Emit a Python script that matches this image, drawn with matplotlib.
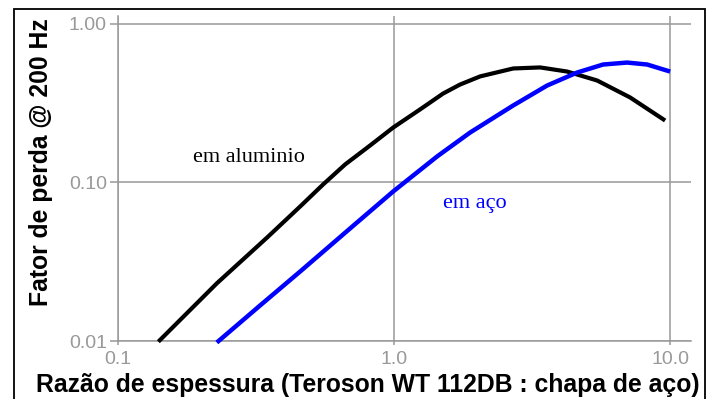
import matplotlib
matplotlib.use("Agg")
import matplotlib.pyplot as plt
from matplotlib.patches import Rectangle
from matplotlib.ticker import FixedLocator, FixedFormatter, NullLocator

# Loss factor at 200 Hz vs. thickness ratio
aluminio_x = [0.14, 0.228, 0.347, 0.457, 0.553, 0.665, 0.818, 0.992, 1.242, 1.505, 1.734,
              2.05, 2.70, 3.38, 4.24, 5.44, 7.16, 9.59]
aluminio_y = [0.0099, 0.0231, 0.045, 0.0706, 0.0971, 0.130, 0.171, 0.222, 0.289, 0.364, 0.415,
              0.467, 0.524, 0.532, 0.501, 0.440, 0.344, 0.246]

aco_x = [0.228, 0.327, 0.457, 0.693, 0.992, 1.432, 1.886, 2.70, 3.584, 4.603, 5.718, 6.985,
         8.254, 10.0]
aco_y = [0.00978, 0.01675, 0.02745, 0.0513, 0.0877, 0.146, 0.2067, 0.306, 0.409, 0.494, 0.555,
         0.571, 0.555, 0.501]

x_ticks = [0.1, 1.0, 10.0]
x_tick_labels = ["0.1", "1.0", "10.0"]
y_ticks = [0.01, 0.1, 1.0]
y_tick_labels = ["0.01", "0.10", "1.00"]

W, H = 716, 399
grid_col = "#999999"
sans = ["Liberation Sans", "DejaVu Sans"]
serif = ["Liberation Serif", "DejaVu Serif"]

fig = plt.figure(figsize=(W / 100, H / 100), dpi=100)
ax = fig.add_axes([118 / W, (H - 341) / H, (691 - 118) / W, (341 - 16) / H])

ax.set_xscale("log")
ax.set_yscale("log")
ax.set_xlim(0.1, 11.9)
ax.set_ylim(0.01, 1.123)

ax.plot(aluminio_x, aluminio_y, color="black", lw=3, clip_on=False, zorder=3,
        solid_joinstyle="round", solid_capstyle="butt")
ax.plot(aco_x, aco_y, color="#0000ff", lw=3.2, clip_on=False, zorder=3,
        solid_joinstyle="round", solid_capstyle="butt")

# tick setup
ax.xaxis.set_major_locator(FixedLocator(x_ticks))
ax.xaxis.set_major_formatter(FixedFormatter(x_tick_labels))
ax.yaxis.set_major_locator(FixedLocator(y_ticks))
ax.yaxis.set_major_formatter(FixedFormatter(y_tick_labels))
ax.xaxis.set_minor_locator(NullLocator())
ax.yaxis.set_minor_locator(NullLocator())
ax.tick_params(axis="x", direction="out", length=3, width=1.1, color=grid_col,
               labelcolor=grid_col, labelsize=14, pad=4)
ax.tick_params(axis="y", direction="out", length=6, width=1.1, color=grid_col,
               labelcolor=grid_col, labelsize=14, pad=2)
for lab in ax.get_xticklabels() + ax.get_yticklabels():
    lab.set_family(sans)

ax.grid(True, color=grid_col, lw=1.1)
for side in ["top", "right"]:
    ax.spines[side].set_visible(False)
for side in ["left", "bottom"]:
    ax.spines[side].set_color(grid_col)
    ax.spines[side].set_linewidth(1.1)

ax.text(0.187, 0.134, "em aluminio", family=serif, fontsize=16, color="black")
ax.text(1.51, 0.0695, "em aço", family=serif, fontsize=16, color="#0000ff")

fig.text(368 / W, 1 - 385 / H, "Razão de espessura (Teroson WT 112DB : chapa de aço)",
         family=sans, fontweight="bold", fontsize=17.8, ha="center", va="center")
fig.text(41 / W, 1 - 162 / H, "Fator de perda @ 200 Hz", family=sans, fontweight="bold",
         fontsize=17.8, rotation=90, ha="center", va="center")

# outer frame around the whole chart
fig.patches.append(Rectangle((14 / W, -0.05), (705 - 14) / W, 1.05 - 9 / H,
                             transform=fig.transFigure, fill=False, ec="black", lw=1.3))

fig.savefig("out.png", dpi=100)
